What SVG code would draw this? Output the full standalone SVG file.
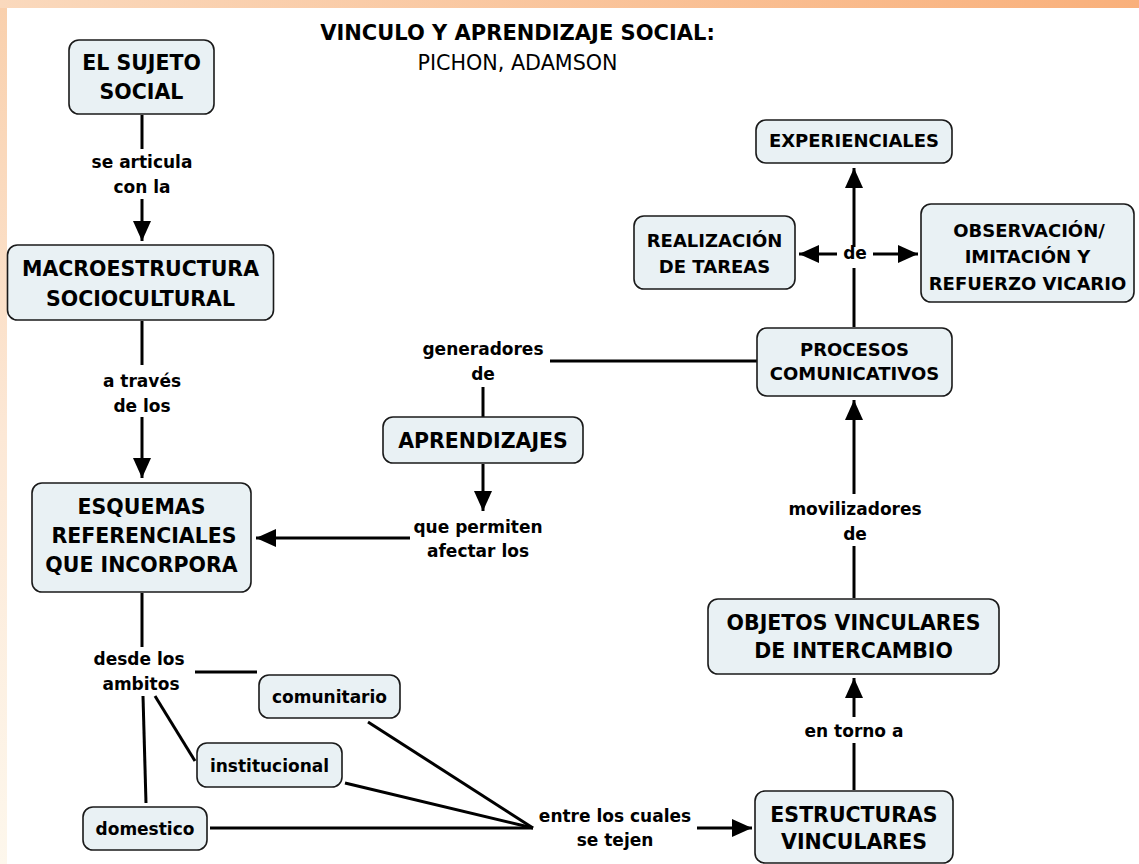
<svg xmlns="http://www.w3.org/2000/svg" width="1139" height="864" viewBox="0 0 1139 864">
<defs>
<linearGradient id="gTop" x1="0" y1="0" x2="1" y2="0">
<stop offset="0" stop-color="#fad9bd"/>
<stop offset="1" stop-color="#f9b07b"/>
</linearGradient>
<linearGradient id="gLeft" x1="0" y1="0" x2="0" y2="1">
<stop offset="0" stop-color="#f9d0ad"/>
<stop offset="0.5" stop-color="#fce8d6"/>
<stop offset="1" stop-color="#fdf7ec"/>
</linearGradient>
<marker id="ah" markerUnits="userSpaceOnUse" markerWidth="20" markerHeight="18" refX="20" refY="9" orient="auto">
<path d="M0,0 L20,9 L0,18 Z" fill="#000"/>
</marker>
<style>
.box{fill:#e9f1f4;stroke:#1a1a1a;stroke-width:1.6}
.t{font-family:"DejaVu Sans",Verdana,sans-serif;font-weight:bold;text-anchor:middle;fill:#000}
.big{font-size:20.5px}
.mid{font-size:18px}
.sm{font-size:17px}
.ln{stroke:#000;stroke-width:3;fill:none}
.ar{stroke:#000;stroke-width:3;fill:none;marker-end:url(#ah)}
</style>
</defs>
<rect x="0" y="0" width="1139" height="864" fill="#fff"/>
<rect x="0" y="0" width="1139" height="8" fill="url(#gTop)"/>
<rect x="0" y="8" width="7" height="856" fill="url(#gLeft)"/>

<g id="title">
<text class="t" x="517.5" y="40" style="font-size:21px">VINCULO Y APRENDIZAJE SOCIAL:</text>
<text x="517.5" y="70" style="font-family:'DejaVu Sans',Verdana,sans-serif;font-size:20.7px;text-anchor:middle">PICHON, ADAMSON</text>
</g>

<g id="connectors">
<line class="ln" x1="142" y1="115" x2="142" y2="149"/>
<line class="ar" x1="142" y1="199" x2="142" y2="241"/>
<line class="ln" x1="142" y1="321" x2="142" y2="365"/>
<line class="ar" x1="142" y1="417" x2="142" y2="478"/>
<line class="ar" x1="410" y1="538" x2="256" y2="538"/>
<line class="ar" x1="483" y1="464" x2="483" y2="511"/>
<line class="ln" x1="757" y1="361" x2="550" y2="361"/>
<line class="ln" x1="483" y1="387" x2="483" y2="417"/>
<line class="ln" x1="854" y1="327" x2="854" y2="268"/>
<line class="ar" x1="854" y1="247" x2="854" y2="168"/>
<line class="ar" x1="837" y1="254" x2="799" y2="254"/>
<line class="ar" x1="873" y1="254" x2="918" y2="254"/>
<line class="ln" x1="854" y1="598" x2="854" y2="546"/>
<line class="ar" x1="854" y1="494" x2="854" y2="400"/>
<line class="ln" x1="854" y1="790" x2="854" y2="743"/>
<line class="ar" x1="854" y1="717" x2="854" y2="678"/>
<line class="ln" x1="142" y1="593" x2="142" y2="647"/>
<line class="ln" x1="195" y1="672" x2="257" y2="672"/>
<line class="ln" x1="155" y1="696" x2="195" y2="761"/>
<line class="ln" x1="143" y1="696" x2="146" y2="803"/>
<line class="ln" x1="368" y1="722" x2="533" y2="828"/>
<line class="ln" x1="345" y1="783" x2="533" y2="828"/>
<line class="ln" x1="210" y1="828" x2="533" y2="828"/>
<line class="ar" x1="697" y1="828" x2="752" y2="828"/>
<g id="labels">
<text class="t sm" x="142" y="168">se articula</text>
<text class="t sm" x="142" y="193">con la</text>
<text class="t sm" x="142" y="387">a través</text>
<text class="t sm" x="142" y="412">de los</text>
<text class="t sm" x="483" y="355">generadores</text>
<text class="t sm" x="483" y="380">de</text>
<text class="t sm" x="478" y="533">que permiten</text>
<text class="t sm" x="478" y="557">afectar los</text>
<text class="t sm" x="855" y="259">de</text>
<text class="t sm" x="855" y="515">movilizadores</text>
<text class="t sm" x="855" y="540">de</text>
<text class="t sm" x="854" y="737">en torno a</text>
<text class="t sm" x="139" y="665">desde los</text>
<text class="t sm" x="141" y="690">ambitos</text>
<text class="t sm" x="615" y="822">entre los cuales</text>
<text class="t sm" x="615" y="846">se tejen</text>
</g>
</g>

<g id="n-sujeto">
<rect class="box" x="69" y="40" width="145" height="74" rx="10"/>
<text class="t big" x="141.5" y="70">EL SUJETO</text>
<text class="t big" x="141.5" y="99">SOCIAL</text>
</g>
<g id="n-macro">
<rect class="box" x="7.5" y="245" width="266" height="75" rx="10"/>
<text class="t big" x="140.5" y="276">MACROESTRUCTURA</text>
<text class="t big" x="140.5" y="306">SOCIOCULTURAL</text>
</g>
<g id="n-esquemas">
<rect class="box" x="32" y="483" width="219" height="109" rx="10"/>
<text class="t big" x="141.5" y="514">ESQUEMAS</text>
<text class="t big" x="144" y="543">REFERENCIALES</text>
<text class="t big" x="141.5" y="572">QUE INCORPORA</text>
</g>
<g id="n-aprendizajes">
<rect class="box" x="383" y="417" width="200" height="46" rx="10"/>
<text class="t big" x="483" y="448">APRENDIZAJES</text>
</g>
<g id="n-procesos">
<rect class="box" x="757" y="328" width="195" height="68" rx="10"/>
<text class="t mid" x="854.5" y="356">PROCESOS</text>
<text class="t mid" x="854.5" y="380">COMUNICATIVOS</text>
</g>
<g id="n-experienciales">
<rect class="box" x="756" y="120" width="196" height="43" rx="10"/>
<text class="t mid" x="854" y="147">EXPERIENCIALES</text>
</g>
<g id="n-realizacion">
<rect class="box" x="634" y="216" width="161" height="73" rx="10"/>
<text class="t mid" x="714.5" y="247">REALIZACIÓN</text>
<text class="t mid" x="714.5" y="273">DE TAREAS</text>
</g>
<g id="n-observacion">
<rect class="box" x="921" y="204" width="213" height="98" rx="10"/>
<text class="t mid" x="1029" y="237">OBSERVACIÓN/</text>
<text class="t mid" x="1027.5" y="263">IMITACIÓN Y</text>
<text class="t mid" x="1027.5" y="290">REFUERZO VICARIO</text>
</g>
<g id="n-objetos">
<rect class="box" x="708" y="599" width="291" height="75" rx="10"/>
<text class="t big" x="853.5" y="630">OBJETOS VINCULARES</text>
<text class="t big" x="853.5" y="658">DE INTERCAMBIO</text>
</g>
<g id="n-estructuras">
<rect class="box" x="755" y="791" width="198" height="72" rx="10"/>
<text class="t big" x="854" y="822">ESTRUCTURAS</text>
<text class="t big" x="854" y="849">VINCULARES</text>
</g>
<g id="n-comunitario">
<rect class="box" x="259" y="675" width="141" height="43" rx="10"/>
<text class="t sm" x="329.5" y="703">comunitario</text>
</g>
<g id="n-institucional">
<rect class="box" x="197" y="743" width="145" height="44" rx="10"/>
<text class="t sm" x="269.5" y="772">institucional</text>
</g>
<g id="n-domestico">
<rect class="box" x="83" y="807" width="124" height="43" rx="10"/>
<text class="t sm" x="145" y="835">domestico</text>
</g>
</svg>
